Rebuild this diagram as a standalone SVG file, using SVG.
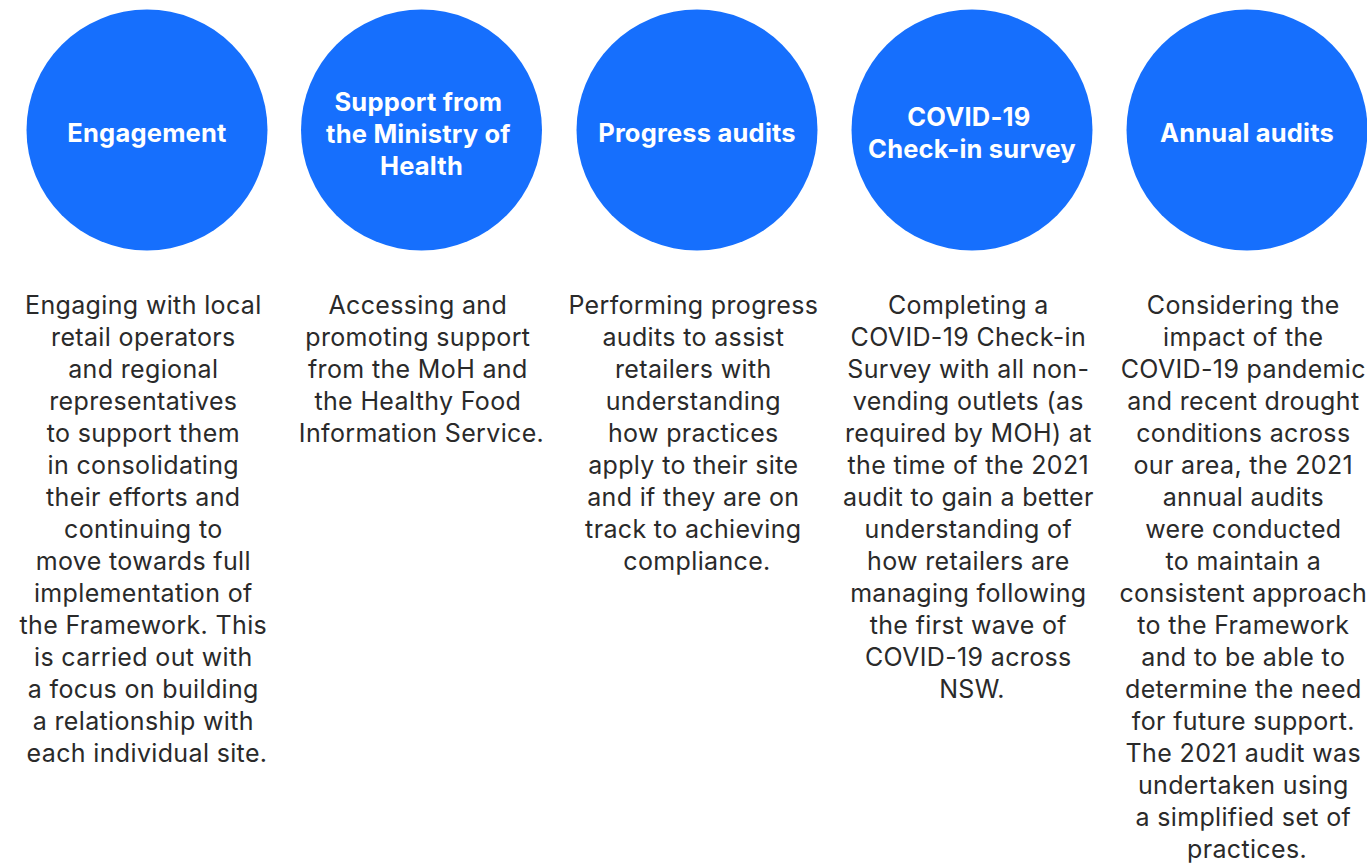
<svg xmlns="http://www.w3.org/2000/svg" width="1367" height="864" viewBox="0 0 1367 864">
  <style>
    .step { fill: #166ffd; }
    .title { font-family: Inter, "Liberation Sans", sans-serif; font-weight: 700; font-size: 25.5px; letter-spacing: 0.2px; fill: #ffffff; text-anchor: middle; }
    .body { font-family: Inter, "Liberation Sans", sans-serif; font-size: 25px; letter-spacing: 0.35px; fill: #2a2a2a; text-anchor: middle; }
  </style>
  <rect width="1367" height="864" fill="#ffffff"/>

  <g id="engagement">
    <circle class="step" cx="147" cy="130" r="120.5"/>
    <text class="title" x="147" y="142">Engagement</text>
    <text class="body" x="147" y="314">
      <tspan x="147">Engaging with local</tspan>
      <tspan x="147" dy="32">retail operators</tspan>
      <tspan x="147" dy="32">and regional</tspan>
      <tspan x="147" dy="32">representatives</tspan>
      <tspan x="147" dy="32">to support them</tspan>
      <tspan x="147" dy="32">in consolidating</tspan>
      <tspan x="147" dy="32">their efforts and</tspan>
      <tspan x="147" dy="32">continuing to</tspan>
      <tspan x="147" dy="32">move towards full</tspan>
      <tspan x="147" dy="32">implementation of</tspan>
      <tspan x="147" dy="32">the Framework. This</tspan>
      <tspan x="147" dy="32">is carried out with</tspan>
      <tspan x="147" dy="32">a focus on building</tspan>
      <tspan x="147" dy="32">a relationship with</tspan>
      <tspan x="147" dy="32">each individual site.</tspan>
    </text>
  </g>

  <g id="ministry-support">
    <circle class="step" cx="421.5" cy="130" r="120.5"/>
    <text class="title" x="421.5" y="111">
      <tspan x="421.5">Support from</tspan>
      <tspan x="421.5" dy="32">the Ministry of</tspan>
      <tspan x="421.5" dy="32">Health</tspan>
    </text>
    <text class="body" x="421.5" y="314">
      <tspan x="421.5">Accessing and</tspan>
      <tspan x="421.5" dy="32">promoting support</tspan>
      <tspan x="421.5" dy="32">from the MoH and</tspan>
      <tspan x="421.5" dy="32">the Healthy Food</tspan>
      <tspan x="421.5" dy="32">Information Service.</tspan>
    </text>
  </g>

  <g id="progress-audits">
    <circle class="step" cx="697" cy="130" r="120.5"/>
    <text class="title" x="697" y="142">Progress audits</text>
    <text class="body" x="697" y="314">
      <tspan x="697">Performing progress</tspan>
      <tspan x="697" dy="32">audits to assist</tspan>
      <tspan x="697" dy="32">retailers with</tspan>
      <tspan x="697" dy="32">understanding</tspan>
      <tspan x="697" dy="32">how practices</tspan>
      <tspan x="697" dy="32">apply to their site</tspan>
      <tspan x="697" dy="32">and if they are on</tspan>
      <tspan x="697" dy="32">track to achieving</tspan>
      <tspan x="697" dy="32">compliance.</tspan>
    </text>
  </g>

  <g id="covid-survey">
    <circle class="step" cx="972" cy="130" r="120.5"/>
    <text class="title" x="972" y="126">
      <tspan x="972">COVID-19</tspan>
      <tspan x="972" dy="32">Check-in survey</tspan>
    </text>
    <text class="body" x="972" y="314">
      <tspan x="972">Completing a</tspan>
      <tspan x="972" dy="32">COVID-19 Check-in</tspan>
      <tspan x="972" dy="32">Survey with all non-</tspan>
      <tspan x="972" dy="32">vending outlets (as</tspan>
      <tspan x="972" dy="32">required by MOH) at</tspan>
      <tspan x="972" dy="32">the time of the 2021</tspan>
      <tspan x="972" dy="32">audit to gain a better</tspan>
      <tspan x="972" dy="32">understanding of</tspan>
      <tspan x="972" dy="32">how retailers are</tspan>
      <tspan x="972" dy="32">managing following</tspan>
      <tspan x="972" dy="32">the first wave of</tspan>
      <tspan x="972" dy="32">COVID-19 across</tspan>
      <tspan x="972" dy="32">NSW.</tspan>
    </text>
  </g>

  <g id="annual-audits">
    <circle class="step" cx="1247" cy="130" r="120.5"/>
    <text class="title" x="1247" y="142">Annual audits</text>
    <text class="body" x="1247" y="314">
      <tspan x="1247">Considering the</tspan>
      <tspan x="1247" dy="32">impact of the</tspan>
      <tspan x="1247" dy="32">COVID-19 pandemic</tspan>
      <tspan x="1247" dy="32">and recent drought</tspan>
      <tspan x="1247" dy="32">conditions across</tspan>
      <tspan x="1247" dy="32">our area, the 2021</tspan>
      <tspan x="1247" dy="32">annual audits</tspan>
      <tspan x="1247" dy="32">were conducted</tspan>
      <tspan x="1247" dy="32">to maintain a</tspan>
      <tspan x="1247" dy="32">consistent approach</tspan>
      <tspan x="1247" dy="32">to the Framework</tspan>
      <tspan x="1247" dy="32">and to be able to</tspan>
      <tspan x="1247" dy="32">determine the need</tspan>
      <tspan x="1247" dy="32">for future support.</tspan>
      <tspan x="1247" dy="32">The 2021 audit was</tspan>
      <tspan x="1247" dy="32">undertaken using</tspan>
      <tspan x="1247" dy="32">a simplified set of</tspan>
      <tspan x="1247" dy="32">practices.</tspan>
    </text>
  </g>

  <g id="connectors"/>
</svg>
